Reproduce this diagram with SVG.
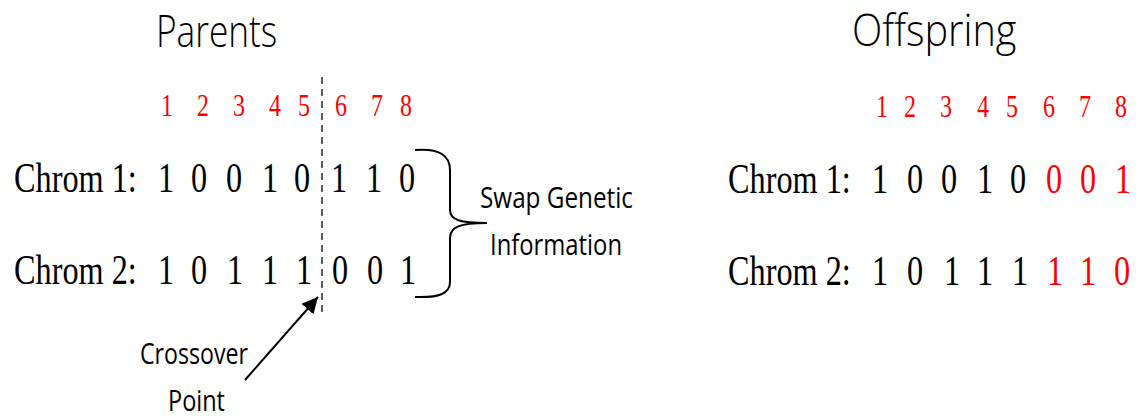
<svg xmlns="http://www.w3.org/2000/svg" width="1144" height="418" viewBox="0 0 1144 418">
  <style>
    .title { font-family: "Open Sans", "Liberation Sans", sans-serif; font-weight: 300; font-size: 44px; fill: #000; }
    .note { font-family: "Open Sans", "Liberation Sans", sans-serif; font-size: 30px; fill: #000; }
    .gene { font-family: "Liberation Serif", "Times New Roman", serif; font-size: 43px; fill: #000; }
    .idx { font-family: "Liberation Serif", "Times New Roman", serif; font-size: 32px; fill: #ff0000; text-anchor: middle; }
    .bit { text-anchor: middle; }
    .red { fill: #ff0000; }
  </style>
  <defs>
    <marker id="arrowhead" markerUnits="userSpaceOnUse" markerWidth="18" markerHeight="16" refX="16" refY="8" orient="auto">
      <path d="M0,0 L16,8 L0,16 Z" fill="#000"/>
    </marker>
  </defs>

  <rect width="1144" height="418" fill="#fff"/>

  <!-- Parents side -->
  <g id="parents">
    <text class="title" transform="translate(156 47) scale(0.8 1)" x="0" y="0">Parents</text>
    <g transform="scale(0.75 1)">
      <text class="idx" y="116" x="222.7 270.7 318.7 366.7 405.3 454.7 502.7 541.3">12345678</text>
      <text class="gene" x="18.7" y="192">Chrom 1:</text>
      <text class="gene bit" y="192" x="221.3 265.3 312 360 402.7 452 498.7 542.7">10010110</text>
      <text class="gene" x="18.7" y="284">Chrom 2:</text>
      <text class="gene bit" y="284" x="221.3 265.3 313.3 360 405.3 453.3 500 544">10111001</text>
    </g>
  </g>

  <!-- Offspring side -->
  <g id="offspring">
    <text class="title" transform="translate(852 46) scale(0.9 1)" x="0" y="0">Offspring</text>
    <g transform="scale(0.75 1)">
      <text class="idx" y="117" x="1176 1213.3 1261.3 1310.7 1349.3 1398.7 1446.7 1494.7">12345678</text>
      <text class="gene" x="970.7" y="193">Chrom 1:</text>
      <text class="gene bit" y="193" x="1173.3 1220 1265.3 1313.3 1357.3">10010</text>
      <text class="gene bit red" y="193" x="1405.3 1450.7 1497.3">001</text>
      <text class="gene" x="970.7" y="285">Chrom 2:</text>
      <text class="gene bit" y="285" x="1173.3 1220 1269.3 1313.3 1360">10111</text>
      <text class="gene bit red" y="285" x="1406.7 1450.7 1496">110</text>
    </g>
  </g>

  <!-- Crossover point label -->
  <g id="crossover-label">
    <text class="note" x="140" y="364" textLength="108" lengthAdjust="spacingAndGlyphs">Crossover</text>
    <text class="note" x="168" y="411" textLength="57" lengthAdjust="spacingAndGlyphs">Point</text>
  </g>

  <!-- Swap label -->
  <g id="swap-label">
    <text class="note" x="480" y="208" textLength="153" lengthAdjust="spacingAndGlyphs">Swap Genetic</text>
    <text class="note" x="490" y="255" textLength="132" lengthAdjust="spacingAndGlyphs">Information</text>
  </g>

  <g id="connectors" fill="none" stroke="#000">
    <!-- crossover cut line -->
    <line x1="322" y1="77" x2="322" y2="312" stroke="#333" stroke-width="1.6" stroke-dasharray="7 5"/>
    <!-- pointer to the cut -->
    <line x1="245" y1="380" x2="318" y2="297" stroke-width="2" marker-end="url(#arrowhead)"/>
    <!-- brace grouping the swapped tails -->
    <path d="M415,150 C440,148 450,156 450,170 L450,210 C450,220 460,223 487,223 C460,223 450,227 450,238 L450,282 C450,293 440,298 415,297" stroke-width="2"/>
  </g>
</svg>
